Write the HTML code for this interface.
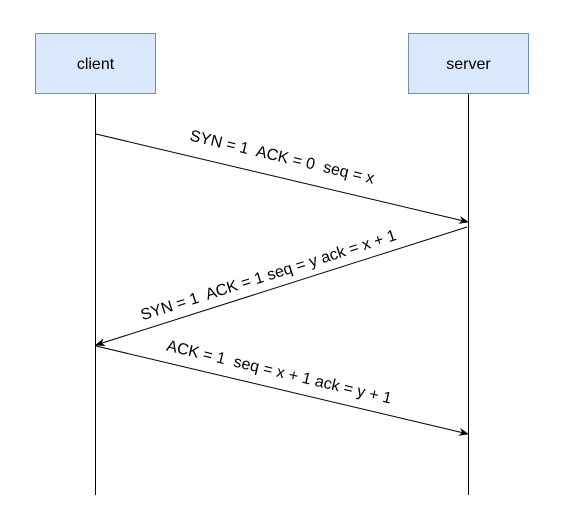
<!DOCTYPE html>
<html><head><meta charset="utf-8"><style>html,body{margin:0;padding:0;background:#fff;}svg{display:block}</style></head>
<body>
<svg width="566" height="526" viewBox="0 0 566 526" xmlns="http://www.w3.org/2000/svg" font-family="Liberation Sans, Arial, sans-serif">
<defs>
<marker id="ah" markerWidth="10" markerHeight="8" refX="9" refY="4" orient="auto" markerUnits="userSpaceOnUse">
<path d="M0,0 L10,4 L0,8 L3,4 Z" fill="#000"/>
</marker>
</defs>
<rect x="35.5" y="33.5" width="120" height="60" fill="#dae8fc" stroke="#6c8ebf"/>
<text x="95.5" y="69" font-size="16" text-anchor="middle">client</text>
<rect x="408.5" y="33.5" width="120" height="60" fill="#dae8fc" stroke="#6c8ebf"/>
<text x="468.5" y="69" font-size="16" text-anchor="middle">server</text>
<line x1="95.5" y1="94" x2="95.5" y2="495" stroke="#000"/>
<line x1="468.5" y1="94" x2="468.5" y2="495" stroke="#000"/>
<line x1="96" y1="134" x2="468" y2="222" stroke="#000" marker-end="url(#ah)"/>
<line x1="467" y1="227" x2="96" y2="345" stroke="#000" marker-end="url(#ah)"/>
<line x1="96" y1="346" x2="468" y2="434" stroke="#000" marker-end="url(#ah)"/>
<text font-size="16" text-anchor="middle" transform="translate(281,162) rotate(13.3)" xml:space="preserve">SYN = 1  ACK = 0  seq = x</text>
<text font-size="16" text-anchor="middle" transform="translate(270,280) rotate(-17.6)" xml:space="preserve">SYN = 1  ACK = 1 seq = y ack = x + 1</text>
<text font-size="16" text-anchor="middle" transform="translate(278,377) rotate(13.4)" xml:space="preserve">ACK = 1  seq = x + 1 ack = y + 1</text>
</svg>
</body></html>
